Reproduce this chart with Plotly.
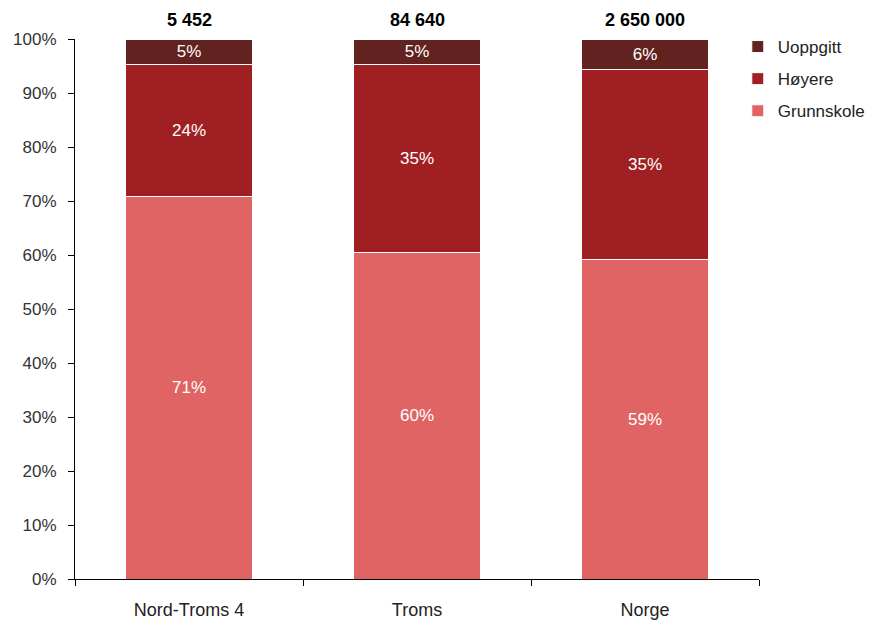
import plotly.graph_objects as go

# data (percent of population)
omraader = ['Nord-Troms 4', 'Troms', 'Norge']
grunnskole = [70.9, 60.4, 59.1]
hoyere = [24.4, 34.8, 35.3]
uoppgitt = [4.7, 4.8, 5.6]
antall = ['5 452', '84 640', '2 650 000']

farger = {'Grunnskole': '#E06464', 'Høyere': '#A01F22', 'Uoppgitt': '#622220'}
rekkefolge = {'Uoppgitt': 1, 'Høyere': 2, 'Grunnskole': 3}

fig = go.Figure()
for navn, verdier in [('Grunnskole', grunnskole), ('Høyere', hoyere), ('Uoppgitt', uoppgitt)]:
    fig.add_trace(go.Bar(
        x=omraader, y=verdier, name=navn, legendgroup=navn, legendrank=rekkefolge[navn],
        marker=dict(color=farger[navn], line=dict(color='white', width=1)),
        texttemplate='%{y:.0f}%', textposition='inside', insidetextanchor='middle',
        textfont=dict(family='Liberation Sans, Arial', size=17, color='white'),
        hoverinfo='skip'))

# totals above each bar
for omr, n in zip(omraader, antall):
    fig.add_annotation(x=omr, y=100, yref='y', text='<b>' + n + '</b>', showarrow=False,
                       yanchor='bottom', yshift=7,
                       font=dict(family='Liberation Sans, Arial', size=18, color='black'))

# page body adds 8px margin, so the figure is a bit smaller than the window
fig.update_layout(
    width=870, height=612,
    barmode='stack', bargap=0.44,
    plot_bgcolor='white', paper_bgcolor='white',
    margin=dict(l=67, r=119, t=31, b=41, autoexpand=False),
    font=dict(family='Liberation Sans, Arial', size=16, color='#222'),
    legend=dict(x=0.969, xanchor='left', y=1.0185, yanchor='top', traceorder='grouped',
                tracegroupgap=7,
                font=dict(size=17, color='#222'), bgcolor='rgba(0,0,0,0)'),
    uniformtext=dict(minsize=10, mode='show'),
)
fig.update_yaxes(range=[0, 100], dtick=10, ticksuffix='%', showgrid=False, zeroline=False,
                 showline=True, linecolor='black', linewidth=1,
                 ticks='outside', ticklen=6, tickcolor='black', ticklabelstandoff=8,
                 tickfont=dict(size=17, color='#333'))
fig.update_xaxes(showgrid=False, showline=True, linecolor='black', linewidth=1,
                 ticks='outside', ticklen=6, tickcolor='black', tickson='boundaries',
                 ticklabelstandoff=14,
                 tickfont=dict(size=18, color='#222'))

fig.write_html('out.html')
